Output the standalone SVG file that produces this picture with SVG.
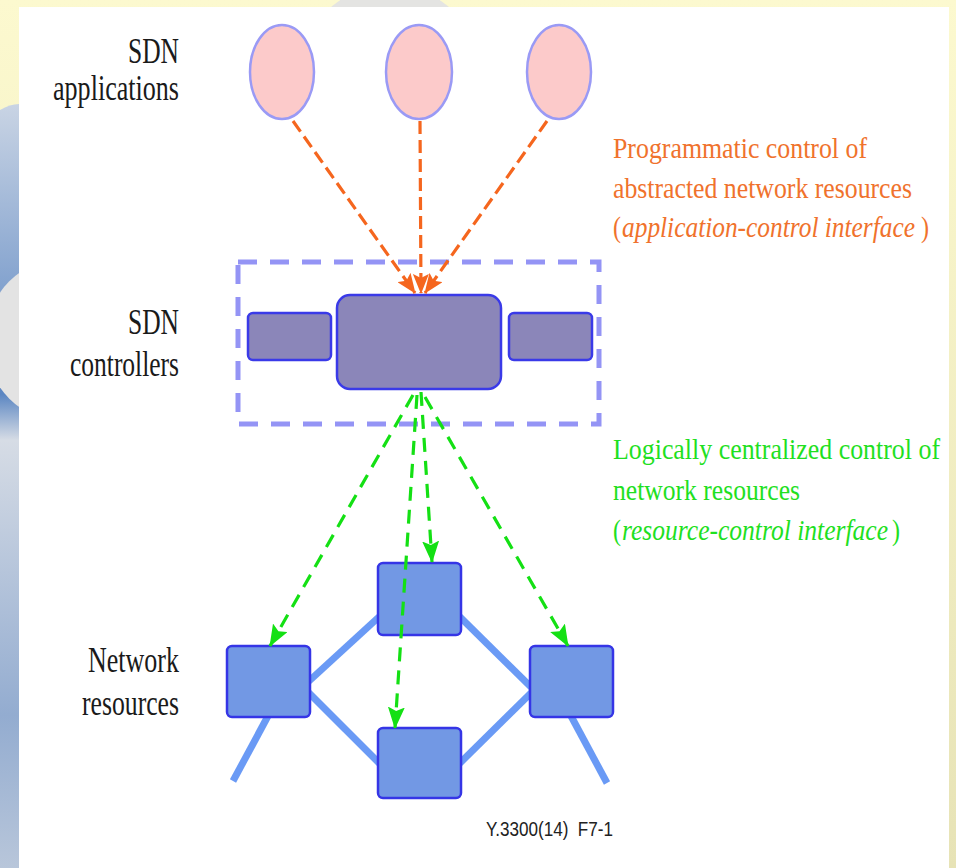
<svg xmlns="http://www.w3.org/2000/svg" width="956" height="868" viewBox="0 0 956 868">
<defs>
<linearGradient id="bgY" x1="0" y1="0" x2="0" y2="1">
<stop offset="0" stop-color="#fcf9cf"/>
<stop offset="1" stop-color="#e7e3b6"/>
</linearGradient>
<linearGradient id="leftBand" x1="0" y1="0" x2="0" y2="1">
<stop offset="0" stop-color="#c9d4e4"/>
<stop offset="0.38" stop-color="#5b86c2"/>
<stop offset="0.44" stop-color="#d6dce5"/>
<stop offset="0.8" stop-color="#93acd0"/>
<stop offset="1" stop-color="#b8c6da"/>
</linearGradient>
<marker id="arrO" viewBox="0 0 20 16" refX="19" refY="8" markerWidth="20" markerHeight="16" markerUnits="userSpaceOnUse" orient="auto">
<path d="M0,0 L20,8 L0,16 L4,8 z" fill="#f5661e"/>
</marker>
<marker id="arrG" viewBox="0 0 22 17" refX="21" refY="8.5" markerWidth="22" markerHeight="17" markerUnits="userSpaceOnUse" orient="auto">
<path d="M0,0 L22,8.5 L0,17 L4,8.5 z" fill="#14e014"/>
</marker>
</defs>
<style>
.lbl{font-family:"Liberation Serif","Times New Roman",serif;font-size:35px;fill:#1a1a1a}
.rt{font-family:"Liberation Serif","Times New Roman",serif;font-size:26px}
.or{fill:#f0722c}
.gr{fill:#1fe01f}
.it{font-style:italic}
.app{fill:#fccaca;stroke:#9a9af5;stroke-width:2.5}
.ctl{fill:#8b86b9;stroke:#3a3ae8;stroke-width:2.5}
.net{fill:#7298e4;stroke:#3535e6;stroke-width:2.5}
.link{stroke:#6a9af5;stroke-width:7;fill:none;stroke-linecap:butt}
.oa{stroke:#f5661e;stroke-width:3.2;fill:none;stroke-dasharray:13 6}
.ga{stroke:#14e014;stroke-width:3.2;fill:none;stroke-dasharray:14 9}
.foot{font-family:"Liberation Sans",Arial,sans-serif;font-size:20px;fill:#222;white-space:pre}
</style>

<!-- background -->
<rect x="0" y="0" width="956" height="868" fill="url(#bgY)"/>
<path d="M0,110 Q10,104 19,104 L19,868 L0,868 z" fill="url(#leftBand)"/>
<circle cx="68" cy="340" r="83" fill="#e3e3e3"/>
<circle cx="390" cy="75" r="90" fill="#e4e4e2"/>
<rect x="19" y="7" width="930" height="861" fill="#ffffff"/>

<!-- left labels -->
<g id="label-apps">
<text class="lbl" x="179" y="63" text-anchor="end" textLength="51" lengthAdjust="spacingAndGlyphs">SDN</text>
<text class="lbl" x="179" y="100" text-anchor="end" textLength="126" lengthAdjust="spacingAndGlyphs">applications</text>
</g>
<g id="label-ctrl">
<text class="lbl" x="179" y="334" text-anchor="end" textLength="51" lengthAdjust="spacingAndGlyphs">SDN</text>
<text class="lbl" x="179" y="376" text-anchor="end" textLength="109" lengthAdjust="spacingAndGlyphs">controllers</text>
</g>
<g id="label-net">
<text class="lbl" x="179" y="672" text-anchor="end" textLength="91" lengthAdjust="spacingAndGlyphs">Network</text>
<text class="lbl" x="179" y="715" text-anchor="end" textLength="97" lengthAdjust="spacingAndGlyphs">resources</text>
</g>

<!-- right annotations -->
<g id="label-acif" class="rt or">
<text transform="translate(613 158) scale(1 1.15)" textLength="254" lengthAdjust="spacingAndGlyphs">Programmatic control of</text>
<text transform="translate(613 198) scale(1 1.15)" textLength="299" lengthAdjust="spacingAndGlyphs">abstracted network resources</text>
<text transform="translate(613 237) scale(1 1.15)" textLength="8" lengthAdjust="spacingAndGlyphs">(</text>
<text class="it" transform="translate(622 237) scale(1 1.15)" textLength="293" lengthAdjust="spacingAndGlyphs">application-control interface</text>
<text transform="translate(921 237) scale(1 1.15)" textLength="8" lengthAdjust="spacingAndGlyphs">)</text>
</g>
<g id="label-rcif" class="rt gr">
<text transform="translate(613 459) scale(1 1.15)" textLength="327" lengthAdjust="spacingAndGlyphs">Logically centralized control of</text>
<text transform="translate(613 500) scale(1 1.15)" textLength="187" lengthAdjust="spacingAndGlyphs">network resources</text>
<text transform="translate(613 540) scale(1 1.15)" textLength="8" lengthAdjust="spacingAndGlyphs">(</text>
<text class="it" transform="translate(622 540) scale(1 1.15)" textLength="266" lengthAdjust="spacingAndGlyphs">resource-control interface</text>
<text transform="translate(892 540) scale(1 1.15)" textLength="8" lengthAdjust="spacingAndGlyphs">)</text>
</g>

<!-- network links -->
<g id="links">
<line class="link" x1="308" y1="682" x2="380" y2="616"/>
<line class="link" x1="308" y1="692" x2="380" y2="764"/>
<line class="link" x1="459" y1="616" x2="532" y2="688"/>
<line class="link" x1="459" y1="764" x2="532" y2="692"/>
<line class="link" x1="268" y1="716" x2="233" y2="781"/>
<line class="link" x1="571" y1="716" x2="607" y2="783"/>
</g>

<!-- SDN applications -->
<g id="app1"><ellipse class="app" cx="282" cy="72" rx="32" ry="47"/></g>
<g id="app2"><ellipse class="app" cx="419" cy="72" rx="33" ry="47"/></g>
<g id="app3"><ellipse class="app" cx="559" cy="72" rx="32" ry="47"/></g>

<!-- SDN controllers -->
<g id="controllers">
<rect x="238" y="262" width="361" height="162" fill="none" stroke="#9494f5" stroke-width="5" stroke-dasharray="19 13"/>
<rect class="ctl" x="248" y="313" width="83" height="47" rx="5"/>
<rect class="ctl" x="337" y="295" width="164" height="94" rx="13"/>
<rect class="ctl" x="509" y="313" width="83" height="47" rx="5"/>
</g>

<!-- network resources -->
<g id="net-left"><rect class="net" x="227" y="646" width="83" height="71" rx="5"/></g>
<g id="net-top"><rect class="net" x="378" y="563" width="83" height="72" rx="5"/></g>
<g id="net-right"><rect class="net" x="530" y="646" width="83" height="71" rx="5"/></g>
<g id="net-bottom"><rect class="net" x="378" y="728" width="83" height="70" rx="5"/></g>

<!-- connectors -->
<g id="connectors">
<line class="oa" x1="293" y1="121" x2="415" y2="293" marker-end="url(#arrO)"/>
<line class="oa" x1="420" y1="121" x2="421" y2="293" marker-end="url(#arrO)"/>
<line class="oa" x1="547" y1="121" x2="425" y2="293" marker-end="url(#arrO)"/>
<line class="ga" x1="413" y1="395" x2="270" y2="646" marker-end="url(#arrG)"/>
<line class="ga" x1="421" y1="392" x2="432" y2="562" marker-end="url(#arrG)"/>
<line class="ga" x1="417" y1="395" x2="395" y2="728" marker-end="url(#arrG)"/>
<line class="ga" x1="425" y1="397" x2="568" y2="646" marker-end="url(#arrG)"/>
</g>

<text class="foot" x="486" y="836" textLength="127" lengthAdjust="spacingAndGlyphs">Y.3300(14)  F7-1</text>
</svg>
